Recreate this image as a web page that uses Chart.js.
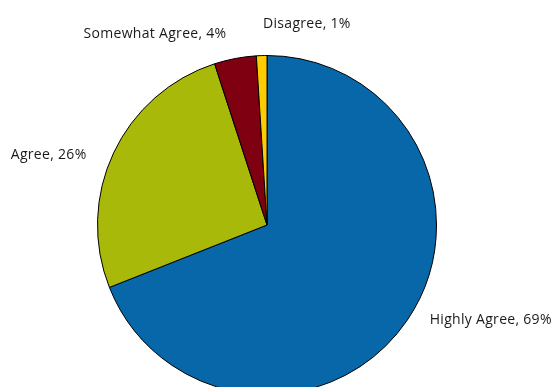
<!DOCTYPE html>
<html>
<head>
<meta charset="utf-8">
<script src="https://cdn.jsdelivr.net/npm/chart.js@4/dist/chart.umd.min.js"></script>
<style>
  html, body { margin: 0; padding: 0; background: #fff; overflow: hidden; }
  #wrap { width: 555px; height: 420px; position: relative; }
</style>
</head>
<body>
<div id="wrap"><canvas id="pieChart"></canvas></div>
<script>
var categories = ['Highly Agree', 'Agree', 'Somewhat Agree', 'Disagree'];
var shares = [69, 26, 4, 1];
var colors = ['#0767a8', '#a8b90a', '#7f0010', '#ffcc00'];

// label nudges (dx, dy, align) so they sit like the original
var labelNudge = [
    { dx: 6, dy: -11, align: 'left' },
    { dx: -9, dy: 11, align: 'right' },
    { dx: -5, dy: -5, align: 'right' },
    { dx: 2, dy: -12, align: 'left' }
];

var outsideLabels = {
    id: 'outsideLabels',
    afterDatasetsDraw: function(chart) {
        var ctx = chart.ctx;
        var meta = chart.getDatasetMeta(0);
        ctx.save();
        ctx.font = '14px "Open Sans", Lato, sans-serif';
        ctx.letterSpacing = '0.3px';
        ctx.fillStyle = '#1a1a1a';
        ctx.textBaseline = 'middle';
        meta.data.forEach(function(arc, i) {
            var mid = (arc.startAngle + arc.endAngle) / 2;
            var r = arc.outerRadius + 20;
            var x = arc.x + Math.cos(mid) * r + labelNudge[i].dx;
            var y = arc.y + Math.sin(mid) * r + labelNudge[i].dy;
            ctx.textAlign = labelNudge[i].align;
            ctx.fillText(categories[i] + ', ' + shares[i] + '%', x, y);
        });
        ctx.restore();
    }
};

var ctx = document.getElementById('pieChart').getContext('2d');
var pieChart = new Chart(ctx, {
    type: 'pie',
    data: {
        labels: categories,
        datasets: [{
            data: shares,
            backgroundColor: colors,
            borderColor: '#000',
            borderWidth: 1
        }]
    },
    options: {
        responsive: true,
        maintainAspectRatio: false,
        animation: false,
        layout: {
            padding: { top: 55, bottom: 25, left: 97, right: 118 }
        },
        plugins: {
            legend: { display: false },
            tooltip: { enabled: false }
        }
    },
    plugins: [outsideLabels]
});
</script>
</body>
</html>
